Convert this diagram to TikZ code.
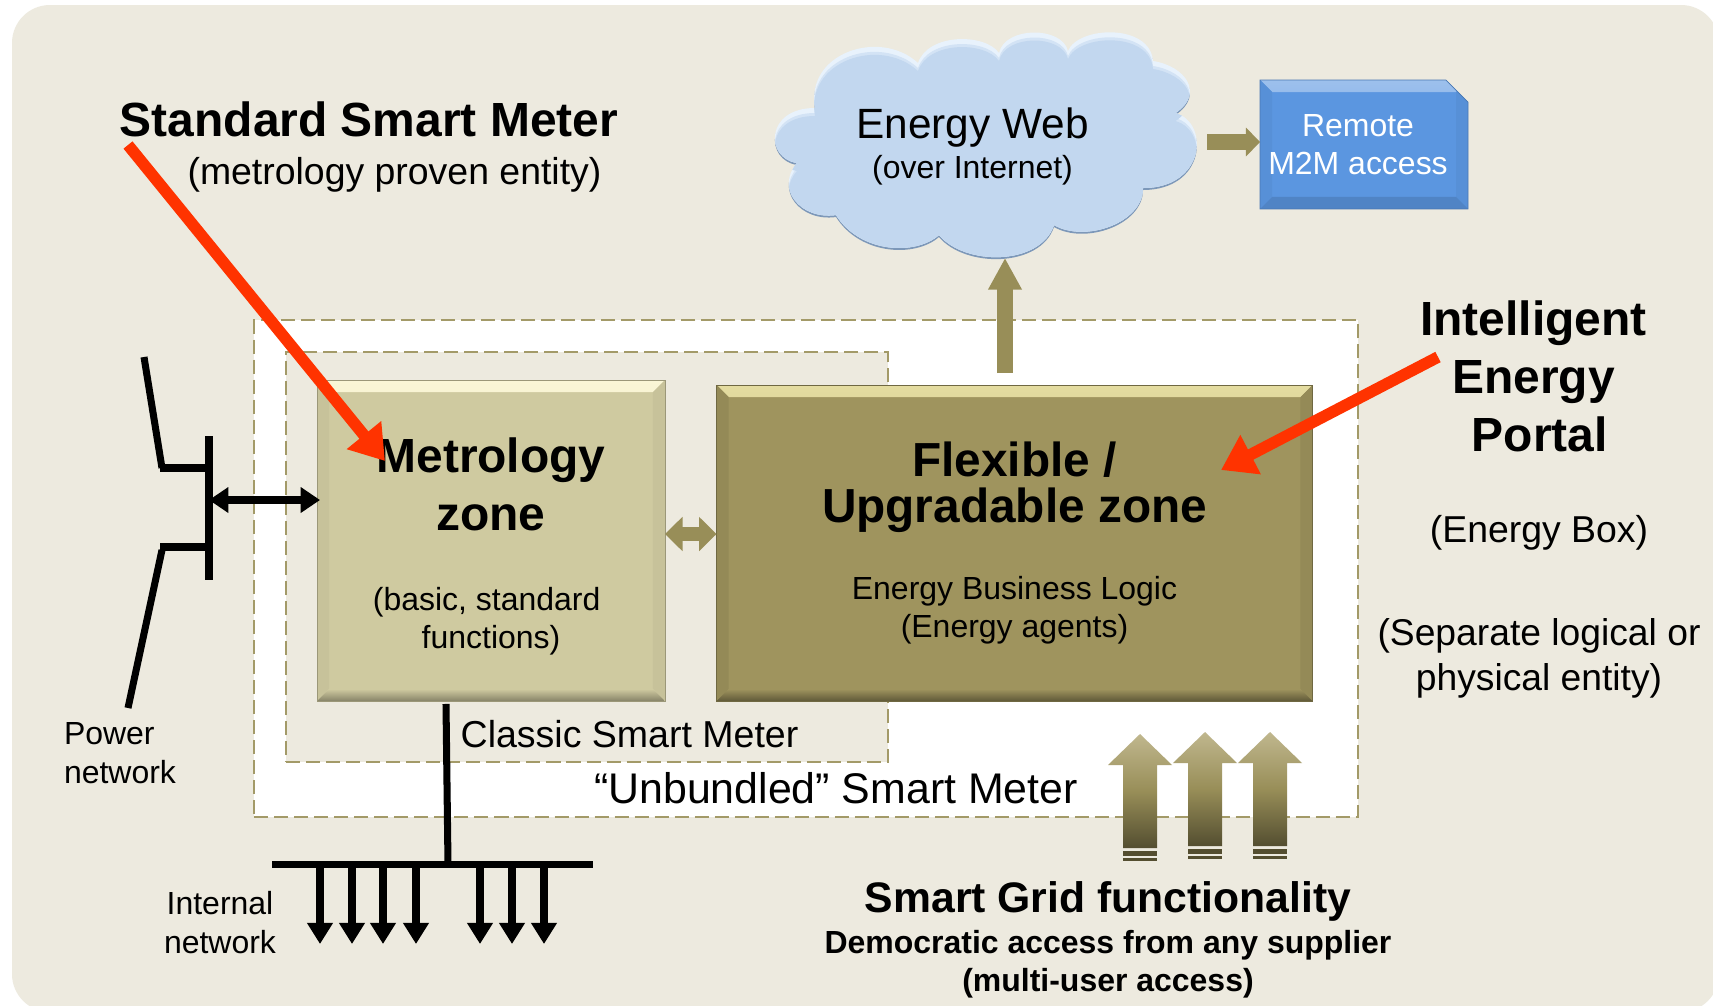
\documentclass[tikz,border=0pt]{standalone}
\usepackage{fontspec}
\setmainfont{Liberation Sans}
\usepackage{tikz}
\usetikzlibrary{arrows.meta,shapes.misc,positioning,calc}
\definecolor{dfpage}{RGB}{237,234,223}
\definecolor{dfolive}{RGB}{152,142,88}
\definecolor{dfdash}{RGB}{163,154,104}
\definecolor{dfmetro}{RGB}{207,202,160}
\definecolor{dfmetrotop}{RGB}{250,246,214}
\definecolor{dfflex}{RGB}{159,148,94}
\definecolor{dfflextop}{RGB}{228,220,160}
\definecolor{dfblue}{RGB}{91,150,224}
\definecolor{dfcloud}{RGB}{194,215,239}
\definecolor{dfcloudtop}{RGB}{232,242,252}
\definecolor{dfcloudrim}{RGB}{125,152,185}
\definecolor{dfgridtop}{RGB}{192,183,142}
\definecolor{dfred}{RGB}{255,51,0}
\newcommand{\bigbold}{\fontsize{27.3}{33}\selectfont\bfseries}
\newcommand{\smalltext}{\fontsize{18.2}{21.7}\selectfont}
\newcommand{\cloudoutline}{(815,110) .. controls (805,55) and (880,30) .. (918,65)
  .. controls (928,35) and (985,35) .. (999,55)
  .. controls (1005,28) and (1062,28) .. (1068,53)
  .. controls (1078,28) and (1150,25) .. (1153,63)
  .. controls (1185,68) and (1205,95) .. (1175.5,115)
  .. controls (1210,125) and (1205,190) .. (1143,190)
  .. controls (1143,225) and (1085,245) .. (1054,227)
  .. controls (1040,268) and (965,268) .. (939,237)
  .. controls (915,258) and (860,255) .. (836,217)
  .. controls (800,222) and (775,190) .. (797,165)
  .. controls (765,160) and (765,110) .. (815,110) -- cycle}
% bevelled box: #1 top, #2 side, #3 bottom
\tikzset{bevel/.style n args={3}{path picture={
  \fill[#1] (path picture bounding box.north west) -- (path picture bounding box.north east)
    -- ([shift={(-12,12)}]path picture bounding box.north east) -- ([shift={(12,12)}]path picture bounding box.north west) -- cycle;
  \fill[#2] (path picture bounding box.north east) -- (path picture bounding box.south east)
    -- ([shift={(-12,-12)}]path picture bounding box.south east) -- ([shift={(-12,12)}]path picture bounding box.north east) -- cycle;
  \fill[#2] (path picture bounding box.north west) -- (path picture bounding box.south west)
    -- ([shift={(12,-12)}]path picture bounding box.south west) -- ([shift={(12,12)}]path picture bounding box.north west) -- cycle;
  \fill[#3] (path picture bounding box.south west) -- (path picture bounding box.south east)
    -- ([shift={(-12,-12)}]path picture bounding box.south east) -- ([shift={(12,-12)}]path picture bounding box.south west) -- cycle;
}}}
\tikzstyle{zonebox} = [rectangle, inner sep=0pt, outer sep=0pt, align=flush center, text=black]
\tikzstyle{dashzone} = [rectangle, inner sep=0pt, outer sep=0pt, preaction={draw=white, line width=1.3pt}, draw=dfdash, line width=1.3pt, dash pattern=on 8pt off 3.4pt]
\tikzstyle{label} = [inner sep=0pt, outer sep=0pt, align=center, text=black]
\tikzstyle{olivearrow} = [draw=dfolive, line width=9.4pt, -{Triangle[length=18pt,width=18pt]}]
\tikzstyle{redarrow} = [draw=dfred, line width=6.6pt, -{Triangle[length=19pt,width=24pt]}]
\tikzstyle{wire} = [draw=black, line width=4pt]
\tikzstyle{feeder} = [draw=black, line width=4pt, -{Triangle[length=12pt,width=14pt]}]
\begin{document}
\begin{tikzpicture}[x=0.02cm, y=-0.02cm]
\useasboundingbox (0,0) rectangle (1713,1005);
\clip (0,0) rectangle (1713,1005);
\fill[white] (0,0) rectangle (1713,1005);
\fill[dfpage, rounded corners=0.76cm] (12,5) rectangle (1719,1012);
% Dashed zones
\node[dashzone, fill=white, minimum width=22.08cm, minimum height=9.94cm] (unbundled) at (806,568.5) {};
\node[dashzone, fill=dfpage, minimum width=12.04cm, minimum height=8.2cm] (classic) at (587,557) {};
% Cloud and remote access
\fill[dfcloudrim] \cloudoutline;
\begin{scope}
\clip[shift={(0,-2)}] \cloudoutline;
\fill[dfcloudtop] (760,20) rectangle (1215,270);
\fill[dfcloud!55!dfcloudtop, shift={(0,3)}] \cloudoutline;
\fill[dfcloud, shift={(0,6)}] \cloudoutline;
\end{scope}
\node[label] (web) at (972.5,146.7) {{\fontsize{24.1}{29}\selectfont Energy Web}\\[3.8pt]{\fontsize{18.2}{22}\selectfont (over Internet)}};
\coordinate (webfoot) at (1005,258);
\coordinate (webside) at (1207,142);
\node[chamfered rectangle, chamfered rectangle corners=north east, chamfered rectangle xsep=0.44cm, chamfered rectangle ysep=0.44cm, inner sep=0pt, outer sep=0pt, minimum width=4.16cm, minimum height=2.58cm, draw=dfblue!80!black, fill=dfblue, align=center, text=white, font=\smalltext,
  bevel={top color=dfblue!60!white, bottom color=dfblue}{dfblue!96!black}{dfblue!88!black}] (remote) at (1364,144.5) {\makebox[0pt]{\kern-6.8pt Remote}\\\makebox[0pt]{\kern-6.8pt M2M access}};
% Zones
\node[zonebox, minimum width=6.96cm, minimum height=6.42cm, text width=6.4cm, fill=dfmetro, draw=dfmetro!75!black, line width=0.5pt,
  bevel={top color=dfmetrotop, bottom color=dfmetro}{dfmetro!96!black}{top color=dfmetro, bottom color=dfmetro!65!black}] (metro) at (491,540.5)
  {{\bigbold\rule{0pt}{26.3pt}Metrology\\zone\par}\vskip 24pt{\smalltext \hspace*{-5pt}(basic, standard\\functions)\par}};
\node[zonebox, minimum width=11.92cm, minimum height=6.32cm, text width=11cm, fill=dfflex, draw=dfflex!70!black, line width=0.5pt,
  bevel={top color=dfflextop, bottom color=dfflex}{dfflex!93!black}{top color=dfflex, bottom color=dfflex!60!black}] (flex) at (1014.5,543)
  {{\fontsize{27.2}{26.2}\selectfont\bfseries Flexible /\\Upgradable zone\par}\vskip 22pt{\smalltext Energy Business Logic\\(Energy agents)\par}};
% Connectors
\draw[olivearrow] ([shift={(-9.5,-12)}]flex.north) -- (webfoot);
\draw[draw=dfolive, line width=9pt, -{Triangle[length=8pt,width=16pt]}] (webside) -- (remote.west |- webside);
\draw[draw=dfolive, line width=8pt, {Triangle[length=10pt,width=19pt]}-{Triangle[length=10pt,width=19pt]}] (metro.east |- 0,534) -- (flex.west |- 0,534);
% Power network
\coordinate (pwa) at (144,357);
\coordinate (pwb) at (162,468);
\coordinate (pwc) at (162,550);
\coordinate (pwd) at (128,708);
\coordinate (barup) at (209,436);
\coordinate (bardown) at (209,580);
\draw[wire] (pwa) -- (pwb);
\draw[wire] (160,468) -- (barup |- pwb);
\draw[wire] (barup) -- (bardown);
\draw[wire] (160,547) -- (barup |- 0,547);
\draw[wire] (pwc) -- (pwd);
\draw[wire, {Triangle[length=11pt,width=14pt]}-{Triangle[length=11pt,width=14pt]}] (209,500) -- ([shift={(3,0)}]metro.west |- 0,500);
% Internal network
\coordinate (busl) at (272,864);
\coordinate (busr) at (593,864);
\draw[wire] ([shift={(-45,3)}]metro.south) -- (448,864);
\draw[wire] (busl) -- (busr);
\foreach \x in {320,352,383,416,480,512,544}
  \draw[feeder] (\x,864) -- (\x,944);
% Smart grid arrows
\foreach \x/\y in {1140/-2,1205/0,1270/0} {
  \shade[top color=dfgridtop, bottom color=dfolive!55!black, middle color=dfolive] (\x,732-\y) -- (\x+32,763-\y) -- (\x+17,763-\y) -- (\x+17,846-\y) -- (\x-17,846-\y) -- (\x-17,763-\y) -- (\x-32,763-\y) -- cycle;
  \fill[dfolive!55!black] (\x-17,849-\y) rectangle (\x+17,854-\y);
  \fill[dfolive!55!black] (\x-17,856-\y) rectangle (\x+17,859-\y);
}
% Red pointers
\draw[redarrow] (128,145) -- (385,461);
\draw[redarrow] (1438,357) -- (1221,470);
% Labels
\node[label, font=\bigbold] (stdmeter) at (369,119) {Standard Smart Meter};
\node[label, font=\fontsize{21.3}{26}\selectfont] (stdsub) at (394.5,175) {(metrology proven entity)};
\node[label, font=\bigbold] (portal) at (1533.5,376) {Intelligent\\Energy\\\hspace*{7pt}Portal};
\node[label, font=\fontsize{21.3}{26}\selectfont] (boxsub) at (1539,533) {(Energy Box)};
\node[label, font=\fontsize{21.2}{25.5}\selectfont] (entity) at (1539,658.5) {(Separate logical or\\physical entity)};
\node[label, font=\fontsize{21.35}{26}\selectfont] (classiclabel) at (629.5,734) {Classic Smart Meter};
\node[label, font=\fontsize{24.4}{29}\selectfont] (unbundledlabel) at (836,788.5) {“Unbundled” Smart Meter};
\node[label, align=left, font=\fontsize{18.2}{22}\selectfont, anchor=west] (power) at (64,753) {Power\\network};
\node[label, font=\fontsize{18.2}{22}\selectfont] (internal) at (220,922.5) {Internal\\network};
\node[label, font=\fontsize{24.3}{30}\selectfont\bfseries] (gridlabel) at (1108,901) {Smart Grid functionality};
\node[label, font=\fontsize{18.2}{22}\selectfont\bfseries, below=0.18cm of gridlabel] (gridsub) {Democratic access from any supplier\\(multi-user access)};
\end{tikzpicture}
\end{document}
